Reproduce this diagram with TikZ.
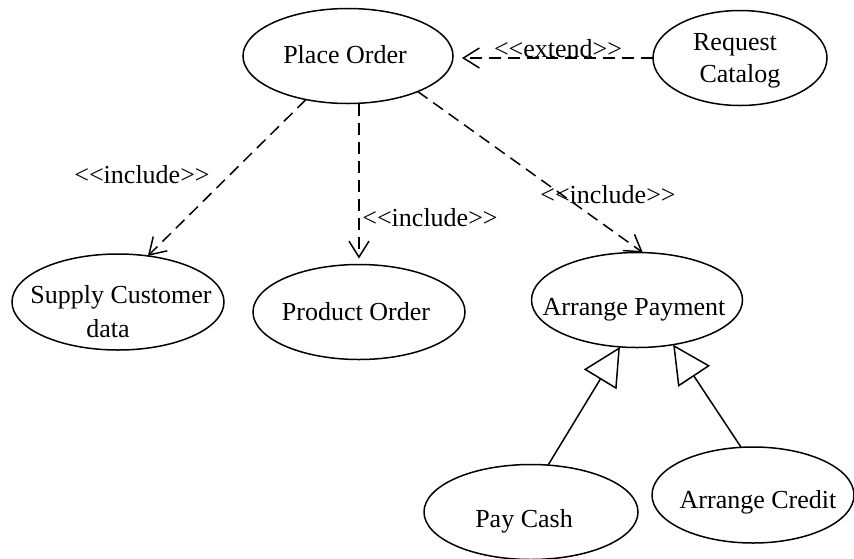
\documentclass[tikz,border=0pt]{standalone}
\usepackage{fontspec}
\setmainfont{Liberation Serif}
\usetikzlibrary{arrows.meta,shapes.geometric}
% stereotype brackets, kept apart so they do not become guillemets
\newcommand\stlt{<\kern0pt<\kern0pt}
\newcommand\stgt{>\kern0pt>}
\begin{document}
\begin{tikzpicture}[x=1pt,y=-1pt,
  usecase/.style={draw, ellipse, line width=1.5pt, inner sep=0pt, outer sep=0pt},
  lbl/.style={anchor=base, inner sep=0pt, font=\fontsize{26}{31}\selectfont},
  dep/.style={draw, line width=1.5pt, dash pattern=on 12pt off 7pt,
              -{Straight Barb[length=16pt,width=20pt]}},
  gen/.style={draw, line width=1.5pt,
              -{Triangle[open,length=38pt,width=38pt,fill=white]}}
]
\useasboundingbox (0,0) rectangle (854,558);
\clip (0,0) rectangle (854,558);

% use cases
\node[usecase, minimum width=210pt, minimum height=95pt] (place)   at (348,56)  {};
\node[usecase, minimum width=174pt, minimum height=95pt] (catalog) at (740,58)  {};
\node[usecase, minimum width=212pt, minimum height=96pt] (supply)  at (118,302) {};
\node[usecase, minimum width=212pt, minimum height=95pt] (product) at (359,312) {};
\node[usecase, minimum width=211pt, minimum height=95pt] (payment) at (637,300) {};
\node[usecase, minimum width=214pt, minimum height=95pt] (cash)    at (531,512) {};
\node[usecase, minimum width=202pt, minimum height=96pt] (credit)  at (753,495) {};

% use case names
\node[lbl] (tplace)    at (345,63)  {Place Order};
\node[lbl] (tcatalog1) at (735,50)  {Request};
\node[lbl] (tcatalog2) at (740,82)  {Catalog};
\node[lbl] (tsupply1)  at (121,303) {Supply Customer};
\node[lbl] (tsupply2)  at (108,337) {data};
\node[lbl] (tproduct)  at (356,320) {Product Order};
\node[lbl] (tpayment)  at (634,315) {Arrange Payment};
\node[lbl] (tcash)     at (524,527) {Pay Cash};
\node[lbl] (tcredit)   at (758,508) {Arrange Credit};

% extend relation
\draw[dep, shorten >=9pt] (catalog.west) -- (catalog.west -| place.east);
\node[lbl] (lextend) at (558,57) {\stlt extend\stgt};

% include relations
\draw[dep] (place.226) -- (supply.57);
\draw[dep, shorten >=6pt] (product.north |- place.south) -- (product.north);
\draw[dep] (place.333) -- (payment.83);
\node[lbl] (linc1) at (142,183) {\stlt include\stgt};
\node[lbl] (linc2) at (430,226) {\stlt include\stgt};
\node[lbl] (linc3) at (608,203) {\stlt include\stgt};

% generalizations
\draw[gen] (cash.70) -- (payment.250);
\draw[gen] (credit.104) -- (payment.309);
\end{tikzpicture}
\end{document}
